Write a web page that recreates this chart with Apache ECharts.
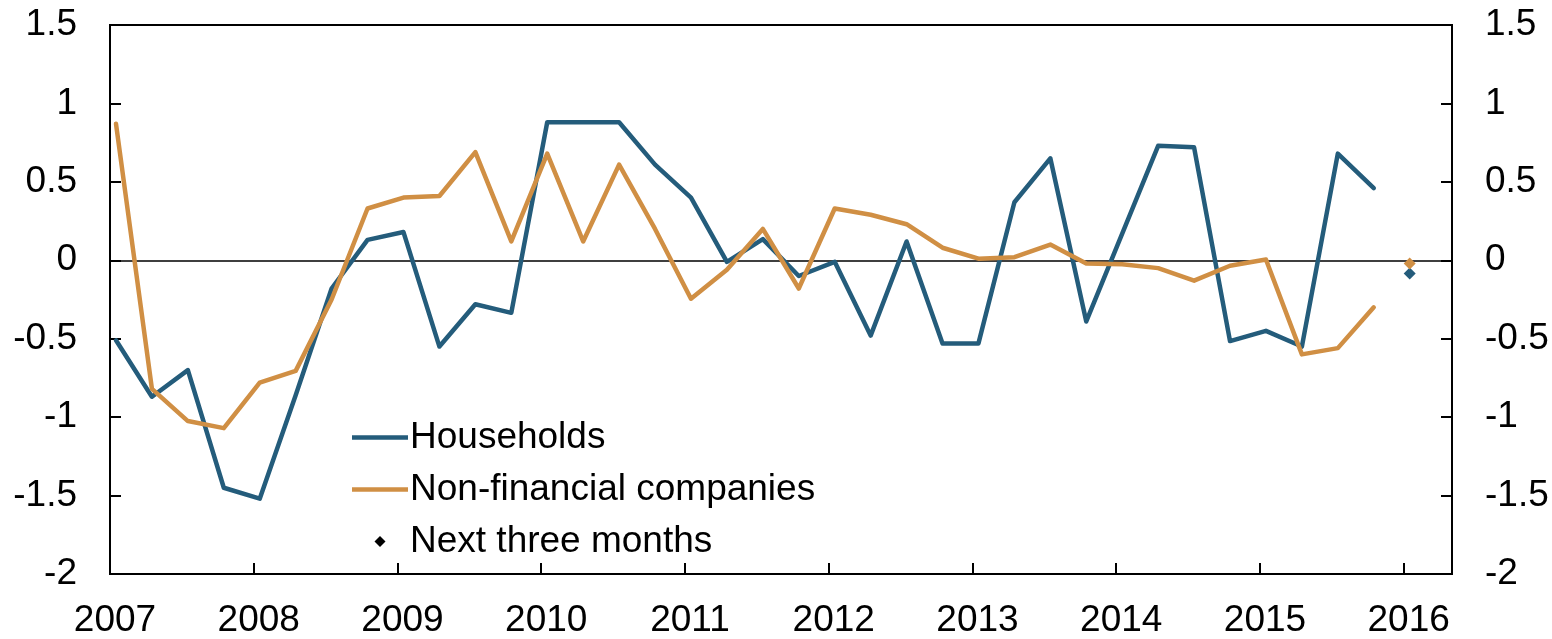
<!DOCTYPE html>
<html>
<head>
<meta charset="utf-8">
<title>Households and non-financial companies</title>
<script src="https://cdn.jsdelivr.net/npm/echarts@6/dist/echarts.min.js"></script>
<style>
    html, body {
        margin: 0;
        padding: 0;
        background: #fff;
    }

    #chart {
        width: 1552px;
        height: 639px;
    }
</style>
</head>
<body>
<div id="chart"></div>
<script>
    // quarterly observations, 2007Q1 - 2015Q4
    var quarters = [];
    for (var yr = 2007; yr <= 2015; yr++) {
        for (var q = 1; q <= 4; q++) {
            quarters.push(yr + 'Q' + q);
        }
    }
    var forecastQuarter = '2016Q1';

    var households = [-0.51, -0.87, -0.70, -1.45, -1.52, -0.86, -0.18, 0.13, 0.18, -0.55, -0.28, -0.335,
        0.88, 0.88, 0.88, 0.61, 0.40, -0.01, 0.135, -0.10, -0.01, -0.48, 0.12, -0.53,
        -0.53, 0.37, 0.65, -0.39, 0.17, 0.73, 0.72, -0.515, -0.45, -0.55, 0.68, 0.46];
    var nonFinancial = [0.87, -0.82, -1.025, -1.07, -0.78, -0.705, -0.25, 0.33, 0.40, 0.41, 0.69, 0.12,
        0.68, 0.12, 0.61, 0.20, -0.245, -0.06, 0.20, -0.18, 0.33, 0.29, 0.23, 0.08,
        0.01, 0.02, 0.10, -0.02, -0.025, -0.05, -0.13, -0.035, 0.005, -0.60, -0.56, -0.30];
    // next three months
    var forecastHouseholds = -0.085;
    var forecastNonFinancial = -0.02;

    var yTicks = [-2, -1.5, -1, -0.5, 0, 0.5, 1, 1.5];

    var BLUE = '#245c7b';
    var ORANGE = '#d08f44';
    var FONT = 'Liberation Sans, Arial, sans-serif';
    var FS = 37;

    // quarter label -> decimal year (mid first month of the quarter)
    function qToYear(s) {
        return +s.slice(0, 4) + (s.charAt(5) - 1) / 4 + 1 / 24;
    }

    function pairs(vals) {
        return vals.map(function (v, i) {
            return [qToYear(quarters[i]), v];
        });
    }

    var xMin = 2007, xMax = 2016.336;

    var yAxisBase = {
        type: 'value',
        min: yTicks[0],
        max: yTicks[yTicks.length - 1],
        interval: 0.5,
        axisLine: { show: true, lineStyle: { color: '#000', width: 2 } },
        axisTick: { show: true, inside: true, length: 11, lineStyle: { color: '#000', width: 2 } },
        axisLabel: { color: '#000', fontSize: FS, fontFamily: FONT, margin: 33 },
        splitLine: { show: false }
    };

    // legend icons: a flat bar for lines, a small diamond padded to the same box
    var lineIcon = 'path://M0,0H56V4.5H0Z';
    var diamondIcon = 'path://M0,5.5L0,5.5M22.5,5.5L28,0L33.5,5.5L28,11ZM56,5.5L56,5.5';

    var option = {
        animation: false,
        backgroundColor: '#fff',
        grid: {
            left: 110,
            right: 100,
            top: 25,
            bottom: 61,
            show: true,
            borderColor: '#000',
            borderWidth: 2
        },
        legend: {
            orient: 'vertical',
            left: 352,
            top: 419,
            padding: 0,
            itemWidth: 56,
            itemHeight: 11,
            itemGap: 15,
            itemStyle: { borderWidth: 0, opacity: 1 },
            textStyle: { color: '#000', fontSize: FS, fontFamily: FONT, lineHeight: 37, padding: [0, 0, 0, -3] },
            data: [
                { name: 'Households', icon: lineIcon },
                { name: 'Non-financial companies', icon: lineIcon },
                { name: 'Next three months', icon: diamondIcon }
            ]
        },
        xAxis: [{
            type: 'value',
            min: xMin,
            max: xMax,
            interval: 1,
            axisLine: { show: true, onZero: false, lineStyle: { color: '#000', width: 2 } },
            axisTick: { show: true, inside: true, length: 11, lineStyle: { color: '#000', width: 2 } },
            axisLabel: {
                color: '#000',
                fontSize: FS,
                fontFamily: FONT,
                margin: 28,
                padding: [0, 0, 0, 10],
                formatter: function (v) {
                    return Number.isInteger(v) ? String(v) : '';
                }
            },
            splitLine: { show: false }
        }, {
            // zero line
            type: 'value',
            position: 'top',
            min: xMin,
            max: xMax,
            axisLine: { show: true, onZero: true, lineStyle: { color: '#000', width: 1.5 } },
            axisTick: { show: false },
            axisLabel: { show: false },
            splitLine: { show: false }
        }],
        yAxis: [
            Object.assign({ position: 'left' }, yAxisBase),
            Object.assign({ position: 'right' }, yAxisBase)
        ],
        series: [{
            name: 'Households',
            type: 'line',
            data: pairs(households),
            symbol: 'none',
            color: BLUE,
            lineStyle: { color: BLUE, width: 4.5, cap: 'round', join: 'round' },
            z: 3
        }, {
            name: 'Non-financial companies',
            type: 'line',
            data: pairs(nonFinancial),
            symbol: 'none',
            color: ORANGE,
            lineStyle: { color: ORANGE, width: 4.5, cap: 'round', join: 'round' },
            z: 3
        }, {
            name: 'Next three months',
            type: 'scatter',
            symbol: 'diamond',
            symbolSize: 12,
            itemStyle: { color: '#000', opacity: 1 },
            data: [
                { value: [qToYear(forecastQuarter), forecastHouseholds], itemStyle: { color: BLUE } },
                { value: [qToYear(forecastQuarter), forecastNonFinancial], itemStyle: { color: ORANGE } }
            ],
            z: 4
        }]
    };

    var myChart = echarts.init(document.getElementById('chart'));
    myChart.setOption(option);
</script>
</body>
</html>
